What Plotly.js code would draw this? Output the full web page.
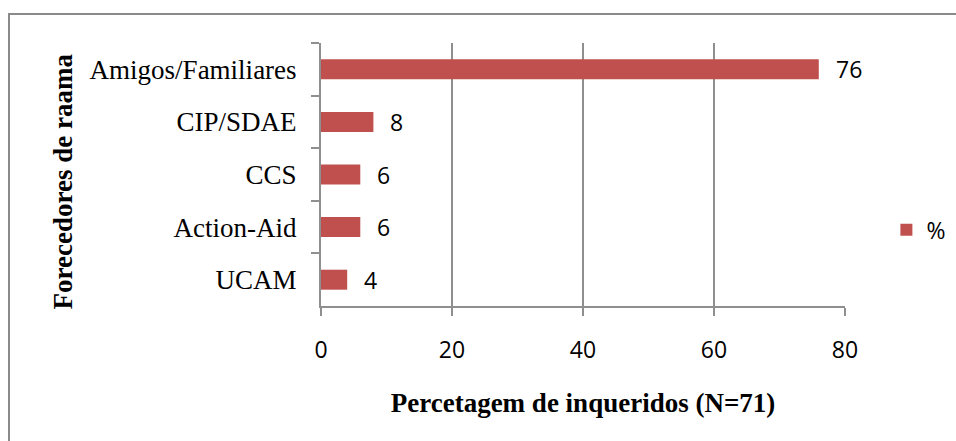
<!DOCTYPE html>
<html>
<head>
<meta charset="utf-8">
<script src="https://cdn.plot.ly/plotly-3.0.1.min.js"></script>
<style>
  html, body { margin: 0; padding: 0; background: #fff; }
  #wrap { position: relative; width: 956px; height: 441px; overflow: hidden; }
  #chart { width: 956px; height: 441px; }
  #frame { position: absolute; left: 8px; top: 13px; width: 970px; height: 460px;
           border: 2px solid #8a8a8a; pointer-events: none; box-sizing: border-box; }
</style>
</head>
<body>
<div id="wrap">
  <div id="chart"></div>
  <div id="frame"></div>
</div>
<script>
const categories = ["Amigos/Familiares", "CIP/SDAE", "CCS", "Action-Aid", "UCAM"];
const percentages = [76, 8, 6, 6, 4];
const seriesName = "%";
const xTicks = [0, 20, 40, 60, 80];
const xTitle = "Percetagem de inqueridos (N=71)";
const yTitle = "Forecedores de raama";

const barColor = "#C0504D";
const gridColor = "#8f8f8f";
const sansFont = "'Open Sans', 'Noto Sans', sans-serif";
const serifFont = "'Liberation Serif', 'DejaVu Serif', serif";

const trace = {
  type: "bar",
  orientation: "h",
  x: percentages,
  y: categories,
  name: seriesName,
  marker: { color: barColor },
  hoverinfo: "x+y",
  showlegend: true
};

const annotations = categories.map((c, i) => ({
  x: percentages[i],
  y: c,
  xref: "x",
  yref: "y",
  text: String(percentages[i]),
  showarrow: false,
  xanchor: "left",
  yanchor: "middle",
  xshift: 15,
  font: { family: sansFont, size: 23, color: "#000" }
}));

annotations.push({
  x: 0, y: 0.5, xref: "paper", yref: "paper",
  xanchor: "center", yanchor: "middle",
  xshift: -259, yshift: -7,
  textangle: -90,
  showarrow: false,
  text: "<b>" + yTitle + "</b>",
  font: { family: serifFont, size: 27, color: "#000" }
});

const layout = {
  width: 956,
  height: 441,
  paper_bgcolor: "#fff",
  plot_bgcolor: "#fff",
  margin: { l: 321, r: 111, t: 43, b: 135, autoexpand: false },
  bargap: 0.62,
  showlegend: true,
  legend: {
    x: 1.079, y: 0.29, xanchor: "left", yanchor: "middle",
    font: { family: sansFont, size: 23, color: "#000" },
    bgcolor: "rgba(0,0,0,0)"
  },
  xaxis: {
    range: [0, 80],
    tickvals: xTicks,
    ticktext: xTicks.map(String),
    showgrid: true,
    gridcolor: gridColor,
    gridwidth: 2,
    zeroline: false,
    showline: true,
    linecolor: gridColor,
    linewidth: 2,
    ticks: "outside",
    ticklen: 8,
    tickwidth: 2,
    tickcolor: gridColor,
    ticklabelstandoff: 14,
    tickfont: { family: sansFont, size: 23, color: "#000" },
    title: {
      text: xTitle,
      standoff: 30,
      font: { family: serifFont, size: 27, color: "#000", weight: "bold" }
    },
    fixedrange: true
  },
  yaxis: {
    type: "category",
    categoryorder: "array",
    categoryarray: categories,
    autorange: "reversed",
    showgrid: false,
    zeroline: false,
    showline: true,
    linecolor: gridColor,
    linewidth: 2,
    ticks: "outside",
    tickson: "boundaries",
    ticklen: 8,
    tickwidth: 2,
    tickcolor: gridColor,
    ticklabelstandoff: 17,
    tickfont: { family: serifFont, size: 27, color: "#000" },
    fixedrange: true
  },
  annotations: annotations
};

Plotly.newPlot("chart", [trace], layout, { displayModeBar: false, staticPlot: true });
</script>
</body>
</html>
